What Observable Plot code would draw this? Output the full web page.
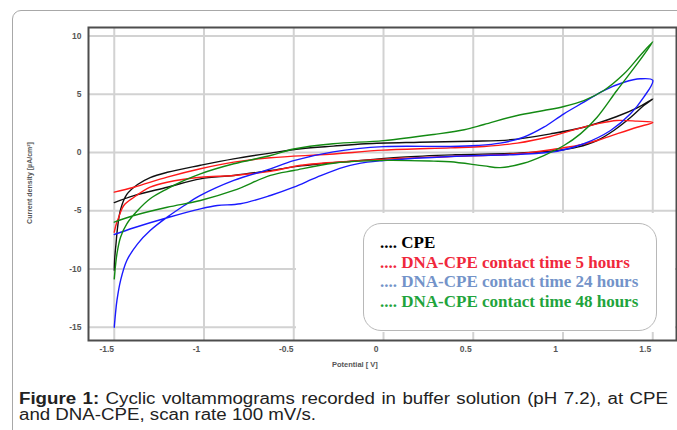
<!DOCTYPE html>
<html>
<head>
<meta charset="utf-8">
<script src="https://cdn.jsdelivr.net/npm/d3@7"></script>
<script src="https://cdn.jsdelivr.net/npm/@observablehq/plot@0.6"></script>
<style>
  html, body { margin: 0; padding: 0; background: #fff; }
  #wrap { position: relative; width: 677px; height: 430px; overflow: hidden; background: #fff; }
  .abs { position: absolute; }
  #outer { left: 12px; top: 10px; width: 720px; height: 480px; border: 1.5px solid #a8a8a8; border-radius: 9px; box-sizing: border-box; }
  #cover { left: 296px; top: 213px; width: 379px; height: 119px; background: #fff; }
  #legend { left: 363px; top: 223px; width: 294px; height: 108px; box-sizing: border-box; border: 1px solid #b8b8b8; border-radius: 18px; background: #fff;
            padding: 9px 0 0 16px; font-family: "Liberation Serif", "Times New Roman", serif; font-weight: bold; font-size: 17px; line-height: 19.5px; white-space: nowrap; }
  .axlab { font-family: "Liberation Sans", Arial, sans-serif; font-weight: bold; color: #555; white-space: nowrap; }
  #ylab { left: 28.5px; top: 183px; font-size: 7px; transform: translate(-50%, -50%) rotate(-90deg); }
  #xlab { left: 332px; top: 360px; font-size: 7.5px; }
  #caption { left: 19px; top: 391px; font-family: "Liberation Sans", Arial, sans-serif; font-size: 16px; line-height: 16px; color: #222; transform-origin: 0 0; white-space: nowrap; }
  #caption span.line { display: inline-block; }
</style>
</head>
<body>
<div id="wrap">
  <div id="outer" class="abs"></div>
  <div id="chart" class="abs" style="left:0;top:0"></div>
  <div id="cover" class="abs"></div>
  <div id="legend" class="abs"></div>
  <div id="ylab" class="abs axlab"></div>
  <div id="xlab" class="abs axlab"></div>
  <div id="caption" class="abs"></div>
</div>
<script>
// ---- tick values and labels ----
const xTicks = [-1.5, -1, -0.5, 0, 0.5, 1, 1.5];
const xTickLabels = ["-1.5", "-1", "-0.5", "0", "0.5", "1", "1.5"];
const yTicks = [-15, -10, -5, 0, 5, 10];
const yTickLabels = ["-15", "-10", "-5", "0", "5", "10"];
const xLabel = "Potential [ V]";
const yLabel = "Current density [µA/cm²]";

// ---- series: [potential V, current density µA/cm²] along each CV loop ----
const cpe = [
  [-1.5,-10.1],[-1.497,-9.0],[-1.49,-7.8],[-1.482,-6.5],[-1.465,-4.9],[-1.43,-3.6],[-1.37,-2.75],[-1.30,-2.15],
  [-1.205,-1.7],[-1.02,-1.1],[-0.835,-0.55],[-0.63,-0.05],[-0.46,0.32],[-0.28,0.55],[-0.1,0.75],[0.2,0.88],
  [0.485,0.97],[0.707,1.09],[0.93,1.6],[1.116,2.17],[1.30,3.09],[1.413,3.83],[1.5,4.6],
  [1.45,4.03],[1.376,3.0],[1.283,1.89],[1.19,1.03],[1.08,0.46],[0.968,0.17],[0.745,-0.06],[0.4,-0.2],
  [0.1,-0.4],[-0.18,-0.75],[-0.46,-1.15],[-0.63,-1.55],[-0.834,-1.97],[-1.02,-2.26],[-1.205,-2.98],[-1.39,-3.7],[-1.5,-4.3]
];
const dna5h = [
  [-1.5,-6.84],[-1.49,-6.2],[-1.475,-5.55],[-1.447,-4.55],[-1.39,-3.84],[-1.30,-2.98],[-1.205,-2.55],[-1.02,-2.12],
  [-0.834,-1.97],[-0.63,-1.62],[-0.46,-1.1],[-0.18,-0.75],[0.1,-0.5],[0.373,-0.34],[0.745,-0.11],[0.968,0.32],
  [1.08,0.6],[1.19,1.03],[1.30,1.6],[1.413,2.17],[1.5,2.58],
  [1.413,2.69],[1.30,2.75],[1.19,2.46],[1.08,2.03],[0.93,1.37],[0.745,0.8],[0.56,0.52],[0.373,0.4],[0,0.2],
  [-0.3,-0.15],[-0.63,-0.45],[-0.834,-0.83],[-1.02,-1.4],[-1.205,-2.12],[-1.39,-2.98],[-1.5,-3.4]
];
const dna24h = [
  [-1.5,-15.0],[-1.493,-13.8],[-1.485,-12.7],[-1.465,-11.0],[-1.43,-9.27],[-1.37,-7.84],[-1.30,-6.7],[-1.205,-5.55],
  [-1.11,-4.55],[-1.02,-3.69],[-0.834,-2.4],[-0.63,-1.4],[-0.5,-0.7],[-0.28,0.05],[0,0.5],[0.373,0.52],[0.52,0.6],
  [0.65,0.8],[0.78,1.31],[0.893,2.17],[1.005,3.32],[1.116,4.32],[1.227,5.32],[1.34,6.03],[1.43,6.33],[1.5,6.2],
  [1.45,4.75],[1.376,3.32],[1.265,1.89],[1.116,0.75],[0.968,0.11],[0.745,-0.17],[0.373,-0.34],[0,-0.69],
  [-0.09,-0.83],[-0.22,-1.26],[-0.37,-2.12],[-0.5,-2.98],[-0.63,-3.69],[-0.797,-4.4],[-0.926,-4.55],[-1.02,-4.84],
  [-1.205,-5.6],[-1.39,-6.46],[-1.5,-7.04]
];
const dna48h = [
  [-1.5,-10.85],[-1.493,-9.7],[-1.485,-8.7],[-1.465,-7.27],[-1.43,-6.12],[-1.37,-4.98],[-1.30,-3.97],[-1.205,-3.12],
  [-1.11,-2.4],[-1.02,-1.83],[-0.834,-0.97],[-0.63,-0.26],[-0.5,0.3],[-0.28,0.75],[0,1.02],[0.28,1.55],[0.45,1.95],
  [0.56,2.4],[0.745,3.18],[0.893,3.6],[1.005,3.95],[1.116,4.46],[1.227,5.32],[1.34,6.75],[1.43,8.33],[1.5,9.5],
  [1.413,7.6],[1.30,5.32],[1.19,3.03],[1.097,1.6],[1.005,0.6],[0.893,-0.26],[0.78,-0.92],[0.65,-1.3],[0.56,-1.15],
  [0.373,-0.8],[0.28,-0.74],[0,-0.68],[-0.28,-0.92],[-0.5,-1.55],[-0.63,-1.97],[-0.834,-3.26],[-1.02,-4.12],
  [-1.205,-4.7],[-1.39,-5.41],[-1.5,-5.98]
];

// ---- legend ----
const seriesNames = ["CPE", "DNA-CPE contact time 5 hours", "DNA-CPE contact time 24 hours", "DNA-CPE contact time 48 hours"];
const lineColors = ["#111111", "#ff1a1a", "#1a1aff", "#138a13"];
const legendColors = ["#000000", "#f0283c", "#7393c9", "#1fa43c"];
const seriesData = [cpe, dna5h, dna24h, dna48h];

const caption1Bold = "Figure 1:";
const caption1Rest = " Cyclic voltammograms recorded in buffer solution (pH 7.2), at CPE";
const caption2 = "and DNA-CPE, scan rate 100 mV/s.";

const chart = Plot.plot({
  width: 677,
  height: 370,
  marginLeft: 88,
  marginRight: 1,
  marginTop: 27,
  marginBottom: 30,
  style: { background: "transparent", fontFamily: "'Liberation Sans', Arial, sans-serif", fontSize: "8.5px", overflow: "visible" },
  x: { domain: [-1.6435, 1.6323] },
  y: { domain: [-16.14, 10.73] },
  marks: [
    Plot.gridX(xTicks, { stroke: "#d2d2d2", strokeOpacity: 1, strokeWidth: 2 }),
    Plot.gridY(yTicks, { stroke: "#d2d2d2", strokeOpacity: 1, strokeWidth: 2 }),
    ...seriesData.map((s, i) => Plot.line(s, { x: d => d[0], y: d => d[1], stroke: lineColors[i], strokeWidth: 1.4, curve: "catmull-rom" })),
    Plot.frame({ stroke: "#4d4d4d", strokeWidth: 2 }),
    Plot.axisX(xTicks, { tickSize: 0, tickPadding: 5, dx: -7.5, fill: "#555", fontWeight: "bold", label: null,
      tickFormat: d => xTickLabels[xTicks.indexOf(d)] }),
    Plot.axisY(yTicks, { tickSize: 0, tickPadding: 7, fill: "#555", fontWeight: "bold", label: null,
      tickFormat: d => yTickLabels[yTicks.indexOf(d)] })
  ]
});
document.getElementById("chart").appendChild(chart);

document.getElementById("ylab").textContent = yLabel;
document.getElementById("xlab").textContent = xLabel;

const legend = document.getElementById("legend");
seriesNames.forEach((name, i) => {
  const row = document.createElement("div");
  row.style.color = legendColors[i];
  row.textContent = ".... " + name;
  legend.appendChild(row);
});

// caption: line 1 spans the full width (justified), line 2 left aligned; glyphs slightly wide
const cap = document.getElementById("caption");
const l1 = document.createElement("span");
l1.className = "line";
const b = document.createElement("b");
b.textContent = caption1Bold;
l1.appendChild(b);
l1.appendChild(document.createTextNode(caption1Rest));
const l2 = document.createElement("span");
l2.className = "line";
l2.textContent = caption2;
cap.appendChild(l1);
cap.appendChild(document.createElement("br"));
cap.appendChild(l2);
const w2 = l2.getBoundingClientRect().width;
const s = Math.min(1.2, 297 / w2);
cap.style.transform = `scaleX(${s})`;
const w1 = l1.getBoundingClientRect().width / s;
const target1 = 649 / s;
const spaces = (caption1Bold + caption1Rest).split(" ").length - 1;
if (w1 < target1) l1.style.wordSpacing = ((target1 - w1) / spaces) + "px";
else l1.style.letterSpacing = ((target1 - w1) / (caption1Bold + caption1Rest).length) + "px";
</script>
</body>
</html>
